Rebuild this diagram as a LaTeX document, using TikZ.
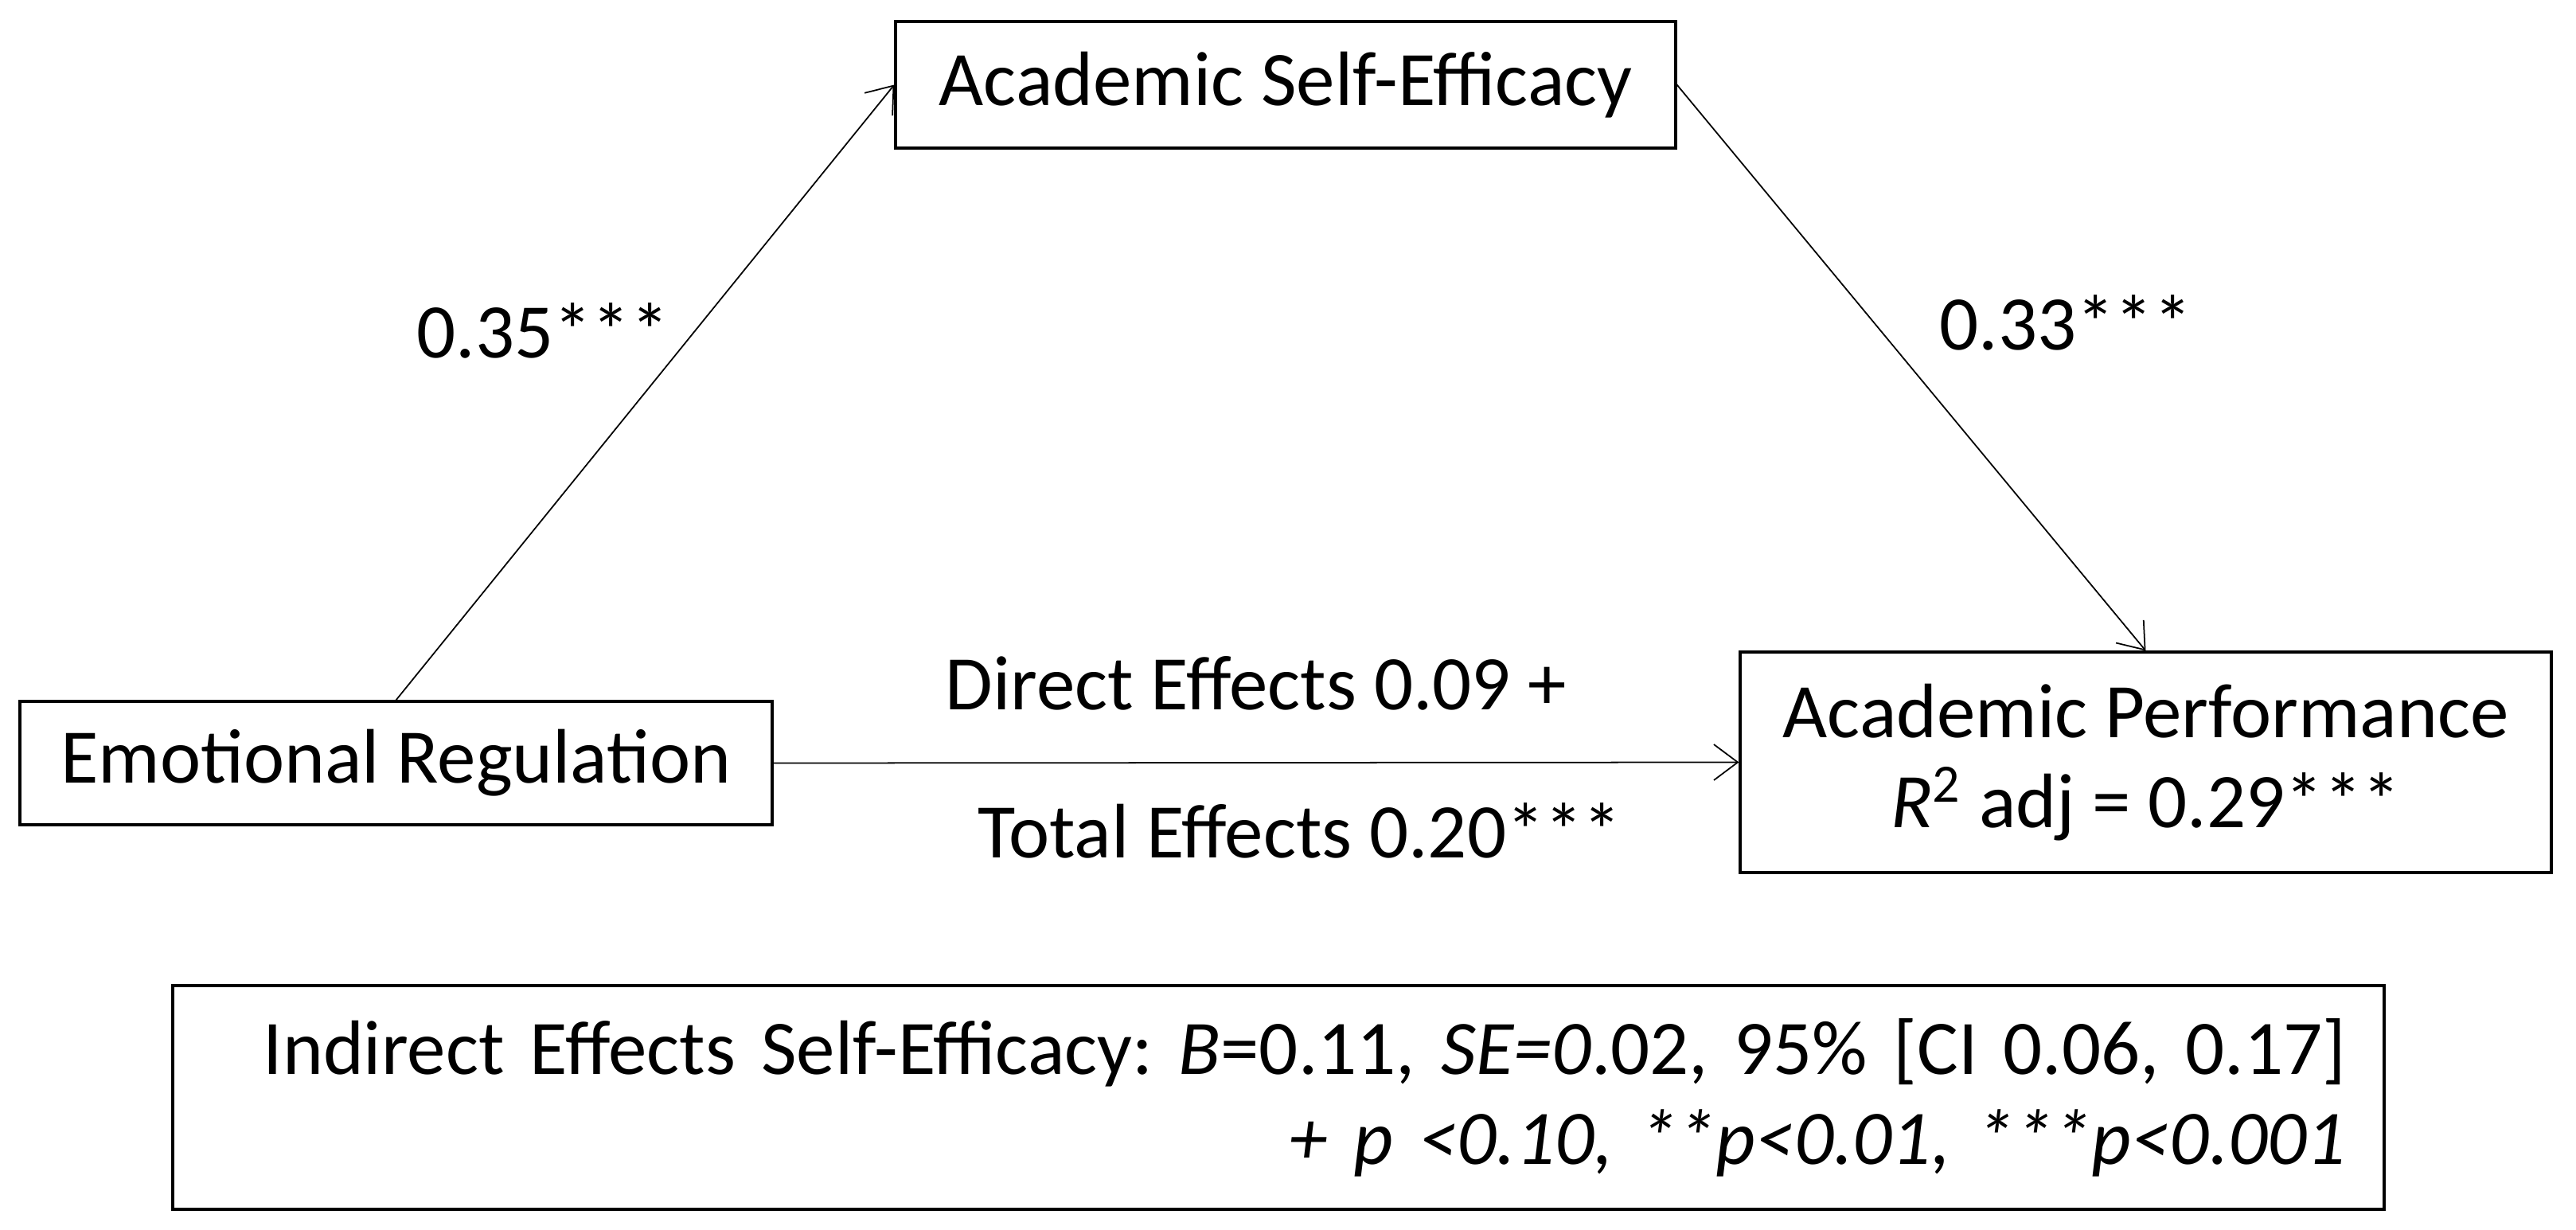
\documentclass[tikz,border=0pt]{standalone}
\usepackage{fontspec}
\setmainfont{Carlito}
\usetikzlibrary{arrows.meta}
\frenchspacing

\begin{document}
\begin{tikzpicture}[
    every node/.style={font=\fontsize{27.6}{32.2}\selectfont},
    varbox/.style={draw, rectangle, line width=0.9pt, inner sep=0pt, align=center},
    effect/.style={draw, line width=0.5pt, -{Straight Barb[length=0.3cm, width=0.45cm]}}]
    \useasboundingbox (0,0) rectangle (32.36,15.44);

    \node[varbox, minimum width=9.8cm, minimum height=1.59cm] (SE) at (16.15,14.375) {Academic Self-Efficacy};
    \node[varbox, minimum width=9.45cm, minimum height=1.55cm] (ER) at (4.975,5.855) {Emotional Regulation};
    \node[varbox, minimum width=10.19cm, minimum height=2.77cm] (AP) at (26.955,5.865) {Academic Performance\\\textit{R}\textsuperscript{2} adj = 0.29***};
    \node[varbox, minimum width=27.78cm, minimum height=2.81cm, text width=26.82cm, align=right] (IE) at (16.06,1.655)
        {Indirect Effects Self-Efficacy: \textit{B}=0.11, \textit{SE=0}.02, 95\% [CI 0.06, 0.17]\\
         \textit{+ p <0.10, **p<0.01, ***p<0.001}};

    \path (ER.north) edge[effect] node[pos=0.6, left=0.2cm]{0.35***} (SE.west);
    \path (SE.east) edge[effect] node[pos=0.42, right=0.7cm]{0.33***} (AP.north);
    \path (ER.east) edge[effect] node[midway, yshift=1.0cm]{Direct Effects 0.09 +}
                                 node[midway, xshift=0.55cm, yshift=-0.85cm]{Total Effects 0.20***} (AP.west);
\end{tikzpicture}
\end{document}
